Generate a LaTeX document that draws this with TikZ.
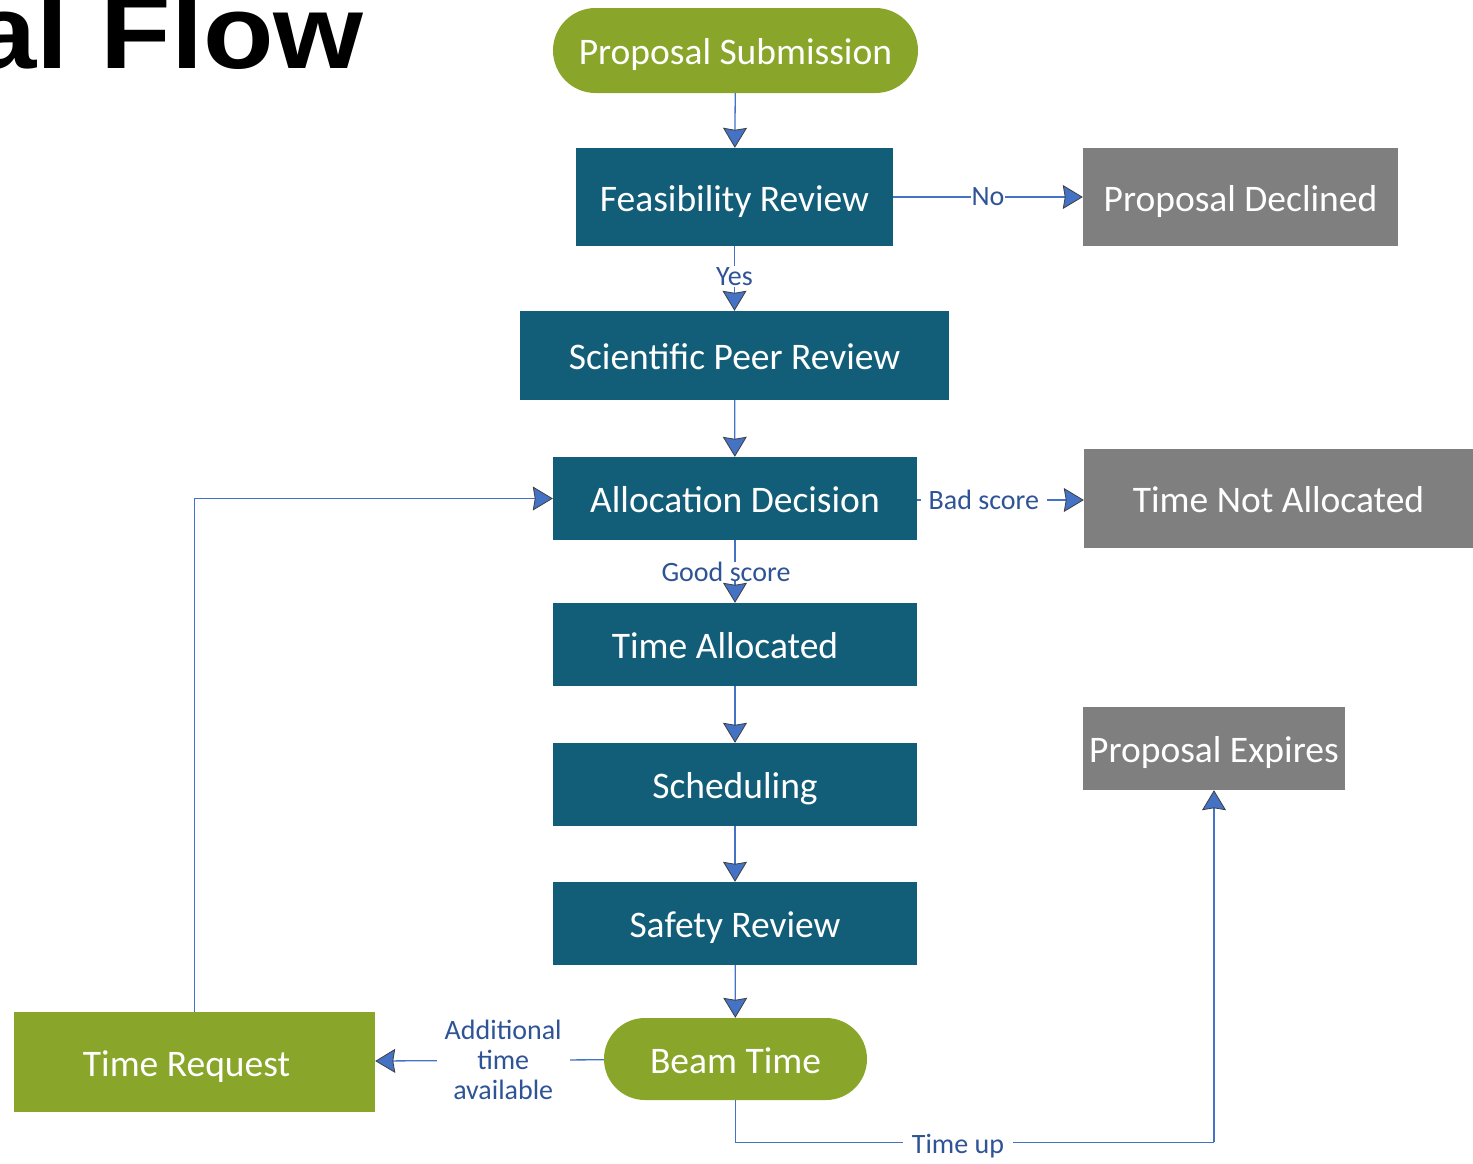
\documentclass[tikz,border=0pt]{standalone}
\usepackage{fontspec}
\setmainfont{Carlito}
\newfontfamily\titlefont{Liberation Sans}
\usetikzlibrary{arrows.meta,shapes.misc}
\definecolor{olive}{RGB}{137,165,42}
\definecolor{teal}{RGB}{18,94,120}
\definecolor{greybox}{RGB}{127,127,127}
\definecolor{linkblue}{RGB}{68,114,196}
\definecolor{labelblue}{RGB}{47,84,150}
\tikzset{
  boxbase/.style={inner sep=0pt, text=white, font=\fontsize{37.5}{40}\selectfont,
    text height=28pt, text depth=0pt},
  tealbox/.style={boxbase, rectangle, fill=teal},
  greybox/.style={boxbase, rectangle, fill=greybox},
  greenbox/.style={boxbase, rectangle, fill=olive},
  terminal/.style={boxbase, rounded rectangle, fill=olive},
  link/.style={draw=linkblue, line width=1.3pt,
    -{Stealth[length=20pt,width=24pt,inset=2pt,color=black!75,fill=linkblue,line width=0.8pt]}},
  plainlink/.style={draw=linkblue, line width=1.3pt},
  lbl/.style={fill=white, text=labelblue, inner sep=1pt, font=\fontsize{28}{30}\selectfont},
}
\begin{document}
\begin{tikzpicture}[x=1pt,y=-1pt]
\useasboundingbox (0,0) rectangle (1473,1163);
% title fragment
\node[anchor=base east, inner sep=0pt, font=\titlefont\bfseries\fontsize{105}{105}\selectfont, xscale=1.1] (title) at (364,68) {al Flow};
% nodes
\node[terminal, minimum width=365pt, minimum height=85pt] (sub) at (735.5,50.5) {Proposal Submission};
\node[tealbox, minimum width=317pt, minimum height=98pt] (feas) at (734.5,197) {Feasibility Review};
\node[greybox, minimum width=315pt, minimum height=98pt] (decl) at (1240.5,197) {Proposal Declined};
\node[tealbox, minimum width=429pt, minimum height=89pt] (sci) at (734.5,355.5) {Scientific Peer Review};
\node[tealbox, minimum width=364pt, minimum height=83pt] (alloc) at (735,498.5) {Allocation Decision};
\node[greybox, minimum width=389pt, minimum height=99pt] (tna) at (1278.5,498.5) {Time Not Allocated};
\node[tealbox, minimum width=364pt, minimum height=83pt] (talloc) at (735,644.5) {\hspace*{-20pt}Time Allocated};
\node[tealbox, minimum width=364pt, minimum height=83pt] (sched) at (735,784.5) {Scheduling};
\node[tealbox, minimum width=364pt, minimum height=83pt] (safety) at (735,923.5) {Safety Review};
\node[terminal, minimum width=263pt, minimum height=82pt] (beam) at (735.5,1059) {Beam Time};
\node[greenbox, minimum width=361pt, minimum height=100pt] (treq) at (194.5,1062) {\hspace*{-16pt}Time Request};
\node[greybox, minimum width=262pt, minimum height=83pt] (expire) at (1214,748.5) {Proposal Expires};
% connectors
\draw[link] (sub) -- (feas);
\draw[link] (feas) -- node[lbl] {No} (decl);
\draw[link] (feas) -- node[lbl, pos=0.47] {Yes} (sci);
\draw[link] (sci) -- (alloc);
\draw[link] (alloc.east |- 0,500) -- node[lbl, pos=0.40, inner xsep=8pt] {Bad score} (tna.west |- 0,500);
\draw[link] (alloc) -- node[lbl, pos=0.50, xshift=-9pt, inner ysep=0pt] {Good score} (talloc);
\draw[link] (talloc) -- (sched);
\draw[link] (sched) -- (safety);
\draw[link] (safety) -- (beam);
\draw[link] (beam) -- node[lbl, pos=0.44, align=center, inner xsep=8pt, font=\fontsize{28}{30}\selectfont] {Additional\\time\\available} (treq);
\draw[link] (treq.north) |- (alloc.west);
\coordinate (c1) at ([yshift=-42pt]beam.south);
\coordinate (c2) at (expire.south |- c1);
\draw[plainlink] (beam.south) -- (c1) -- node[lbl, pos=0.465, inner xsep=9pt, yshift=-4pt] {Time up} (c2);
\draw[link] (c2) -- (expire.south);
\end{tikzpicture}
\end{document}
